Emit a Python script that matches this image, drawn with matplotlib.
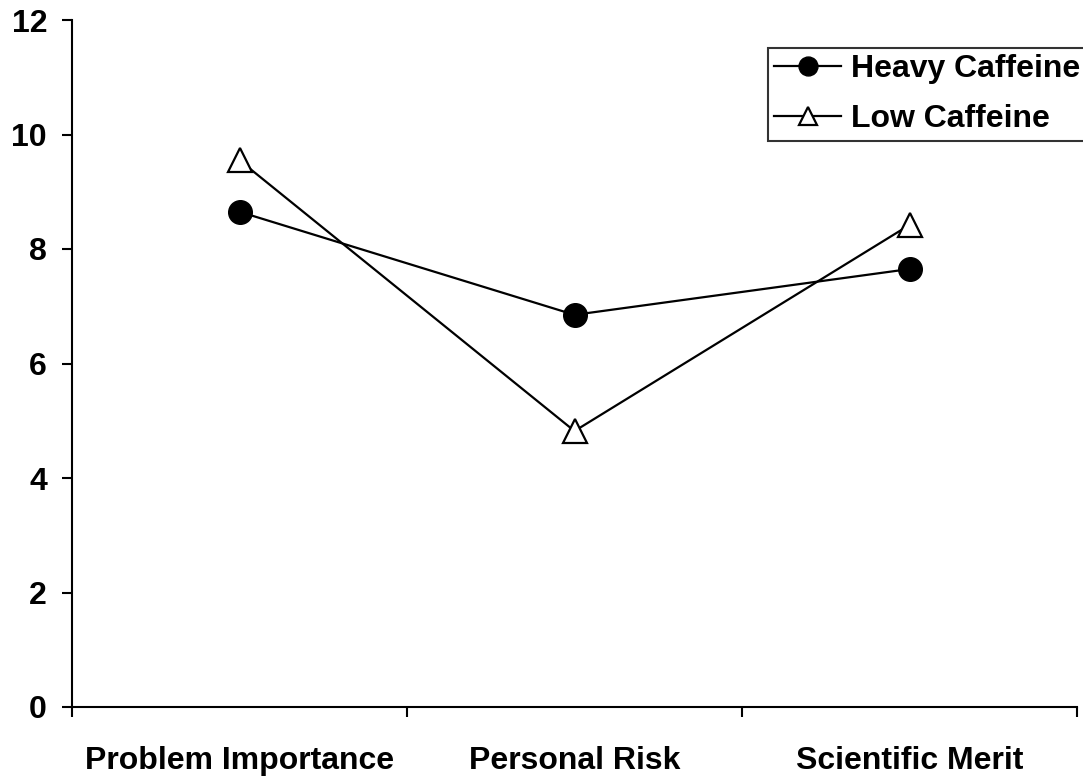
import matplotlib
matplotlib.use("Agg")
import matplotlib.pyplot as plt

# data
categories = ["Problem Importance", "Personal Risk", "Scientific Merit"]
heavy = [8.65, 6.85, 7.65]
low = [9.55, 4.82, 8.42]

plt.rcParams['font.family'] = ['Liberation Sans', 'DejaVu Sans']
plt.rcParams['font.weight'] = 'bold'

fig = plt.figure(figsize=(10.83, 7.77), dpi=100)
ax = fig.add_axes([72 / 1083, 1 - 707 / 777, (1077 - 72) / 1083, (707 - 20) / 777])

x = list(range(1, len(categories) + 1))
ax.plot(x, heavy, color='black', lw=1.6, marker='o', ms=17,
        mfc='black', mec='black', label='Heavy Caffeine', clip_on=False)
ax.plot(x, low, color='black', lw=1.6, marker='^', ms=17, mew=1.6,
        mfc='white', mec='black', label='Low Caffeine', clip_on=False)

ax.set_xlim(0.5, len(categories) + 0.5)
ax.set_ylim(0, 12)
ax.set_yticks(range(0, 13, 2))

# major ticks at category boundaries, labels on minor ticks at centres
ax.set_xticks([i + 0.5 for i in range(len(categories) + 1)])
ax.set_xticklabels([])
ax.set_xticks(x, minor=True)
ax.set_xticklabels(categories, minor=True)
ax.tick_params(axis='x', which='minor', length=0, pad=28, labelsize=23)
ax.tick_params(axis='x', which='major', length=7, width=1.5, direction='out')
ax.tick_params(axis='y', length=7, width=1.5, direction='out', pad=11, labelsize=23)

for side in ['top', 'right']:
    ax.spines[side].set_visible(False)
for side in ['left', 'bottom']:
    ax.spines[side].set_linewidth(1.5)

leg = ax.legend(loc='upper left', bbox_to_anchor=(768 / 1083, 1 - 48 / 777),
                bbox_transform=fig.transFigure, fancybox=False, frameon=True,
                edgecolor='black', fontsize=23, markerscale=0.8,
                handlelength=2.1, handletextpad=0.3, borderpad=0.2,
                labelspacing=0.62, borderaxespad=0)
leg.get_frame().set_linewidth(1.5)
for t in leg.get_texts():
    t.set_fontweight('bold')

fig.savefig('out.png', dpi=100)
